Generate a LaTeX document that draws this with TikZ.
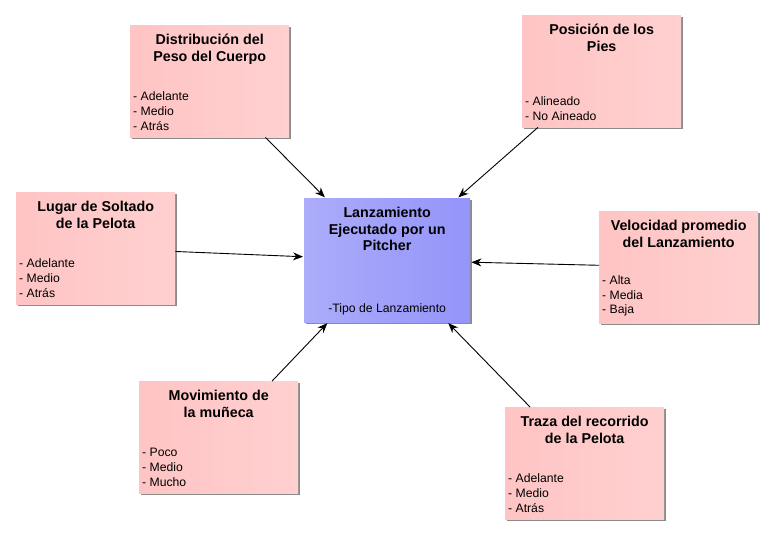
\documentclass[tikz,border=0pt]{standalone}
\usepackage{fontspec}
\setmainfont{Liberation Sans}
\usetikzlibrary{arrows.meta,shadows}
\definecolor{rosaA}{RGB}{255,196,196}
\definecolor{rosaB}{RGB}{255,223,223}
\definecolor{rosaC}{RGB}{255,208,208}
\definecolor{azulA}{RGB}{172,172,250}
\definecolor{azulB}{RGB}{206,206,255}
\definecolor{azulC}{RGB}{148,148,250}

\begin{document}
\begin{tikzpicture}[x=1pt,y=-1pt,
	sombra/.style={drop shadow={shadow xshift=1.5pt,shadow yshift=-1.5pt,fill=black!45,opacity=1}},
	caja/.style={minimum width=159pt,minimum height=112pt,inner sep=0pt,anchor=north west,
		left color=rosaA,middle color=rosaB,right color=rosaC,sombra},
	centro/.style={minimum width=166pt,minimum height=124pt,inner sep=0pt,anchor=north west,
		left color=azulA,middle color=azulB,right color=azulC,sombra},
	titulo/.style={font=\fontsize{14.3}{16.7}\selectfont\bfseries,align=center,inner sep=0pt,anchor=north},
	lista/.style={font=\fontsize{12.2}{14.6}\selectfont,align=left,inner sep=0pt,anchor=south west},
	flecha/.style={-{Stealth[length=10pt,width=8pt]},line width=0.9pt,shorten >=1pt}]
		\fill[white] (0,0) rectangle (774,537);
		\useasboundingbox (0,0) rectangle (774,537);
		
		\node[centro] (L) at (304,198) {};
		\node[caja] (D) at (130,25) {};
		\node[caja] (P) at (522,15) {};
		\node[caja] (S) at (16,192) {};
		\node[caja] (V) at (599,211) {};
		\node[caja] (M) at (139,381) {};
		\node[caja] (T) at (505,407) {};
		
		\node[titulo] (Lt) at ([yshift=-9pt]L.north) {Lanzamiento\\Ejecutado por un\\Pitcher};
		\node[titulo] (Dt) at ([yshift=-9pt]D.north) {Distribución del\\Peso del Cuerpo};
		\node[titulo] (Pt) at ([yshift=-9pt]P.north) {Posición de los\\Pies};
		\node[titulo] (St) at ([yshift=-9pt]S.north) {Lugar de Soltado\\de la Pelota};
		\node[titulo] (Vt) at ([yshift=-9pt]V.north) {Velocidad promedio\\del Lanzamiento};
		\node[titulo] (Mt) at ([yshift=-9pt]M.north) {Movimiento de\\la muñeca};
		\node[titulo] (Tt) at ([yshift=-9pt]T.north) {Traza del recorrido\\de la Pelota};
		
		\node[lista,anchor=south] (Ll) at ([yshift=7pt]L.south) {-Tipo de Lanzamiento};
		\node[lista] (Dl) at ([xshift=3pt,yshift=7pt]D.south west) {- Adelante\\- Medio\\- Atrás};
		\node[lista] (Pl) at ([xshift=3pt,yshift=7pt]P.south west) {- Alineado\\- No Aineado};
		\node[lista] (Sl) at ([xshift=3pt,yshift=7pt]S.south west) {- Adelante\\- Medio\\- Atrás};
		\node[lista] (Vl) at ([xshift=3pt,yshift=7pt]V.south west) {- Alta\\- Media\\- Baja};
		\node[lista] (Ml) at ([xshift=3pt,yshift=7pt]M.south west) {- Poco\\- Medio\\- Mucho};
		\node[lista] (Tl) at ([xshift=3pt,yshift=7pt]T.south west) {- Adelante\\- Medio\\- Atrás};
		
		\begin{scope}[flecha]
			\draw (D) -- (L);
			\draw (P) -- (L);
			\draw (S) -- (L);
			\draw (V) -- (L);
			\draw (M) -- (L);
			\draw (T) -- (L);
		\end{scope}
	\end{tikzpicture}
\end{document}
